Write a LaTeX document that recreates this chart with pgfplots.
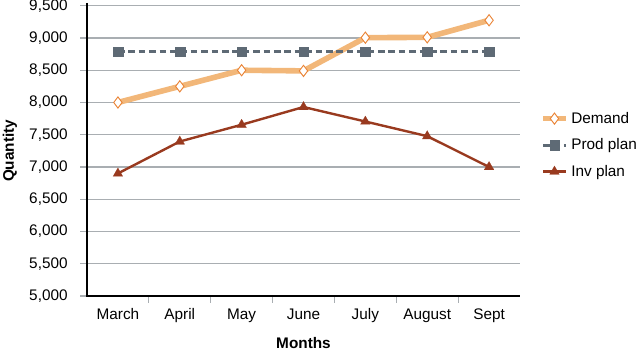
\documentclass[border=0pt]{standalone}
\usepackage{fontspec}
\setmainfont{Liberation Sans}
\usepackage{pgfplots}
\pgfplotsset{compat=1.18}
\definecolor{dem}{HTML}{F2B779}
\definecolor{demedge}{HTML}{EA8436}
\definecolor{prod}{HTML}{5E6A75}
\definecolor{inv}{HTML}{993A1F}
\definecolor{grid}{HTML}{A9AEB2}
\begin{document}
\begin{tikzpicture}
\begin{axis}[
  name=ax,
  scale only axis,
  width=324.75pt, height=217.7pt,
  xmin=-0.5, xmax=6.5,
  ymin=5000, ymax=9500,
  xtick={0,...,6},
  xticklabels={March,April,May,June,July,August,Sept},
  minor xtick={0.5,1.5,...,5.5},
  xtick pos=bottom, ytick pos=left,
  major x tick style={draw=none},
  minor x tick style={draw=grid, line width=0.8pt},
  minor tick length=5pt,
  ytick={5000,5500,...,9500},
  y tick style={draw=grid, line width=0.8pt},
  major tick length=5pt,
  tick align=outside,
  ymajorgrids,
  major grid style={draw=grid, line width=0.8pt},
  axis line style={draw=none},
  tick label style={font=\fontsize{11.5}{13}\selectfont},
  yticklabel style={xshift=-6pt, /pgf/number format/.cd, fixed, 1000 sep={,}, assume math mode=true},
  ylabel={\textbf{Quantity}},
  xlabel={\textbf{Months}},
  label style={font=\fontsize{11.5}{13}\selectfont},
  ylabel style={at={(rel axis cs:-0.178,0.5)}, anchor=center},
  xlabel style={at={(rel axis cs:0.5,-0.162)}, anchor=center},
  xticklabel style={yshift=-1pt},
  legend style={at={(1.037,0.52)}, anchor=west, draw=none, fill=none,
    font=\fontsize{11.5}{13}\selectfont, row sep=6pt,
    /tikz/every even column/.append style={column sep=3pt}},
  legend cell align=left,
  clip=false,
]
\addplot[dem, line width=4.2pt, mark=diamond*, mark size=4.2pt,
  mark options={fill=white, draw=demedge, line width=0.7pt}]
  coordinates {(0,8000) (1,8250) (2,8500) (3,8490) (4,9005) (5,9010) (6,9275)};
\addlegendentry{Demand}
\addplot[prod, line width=2.2pt, dash pattern=on 5pt off 2.8pt, mark=square*, mark size=3.6pt,
  mark options={solid, line width=0.1pt}]
  coordinates {(0,8790) (1,8790) (2,8790) (3,8790) (4,8790) (5,8790) (6,8790)};
\addlegendentry{Prod plan}
\addplot[inv, line width=1.8pt, mark=triangle*, mark size=4.2pt, mark options={line width=0.1pt}]
  coordinates {(0,6900) (1,7395) (2,7655) (3,7930) (4,7705) (5,7478) (6,7000)};
\addlegendentry{Inv plan}
\draw[black, line width=1.6pt] (rel axis cs:0,1.01) -- (rel axis cs:0,0) -- (rel axis cs:1,0);
\end{axis}
\pgfresetboundingbox
\path (ax.south west) ++(-65.25pt,-42.75pt) rectangle ++(480pt,264.75pt);
\end{tikzpicture}
\end{document}
